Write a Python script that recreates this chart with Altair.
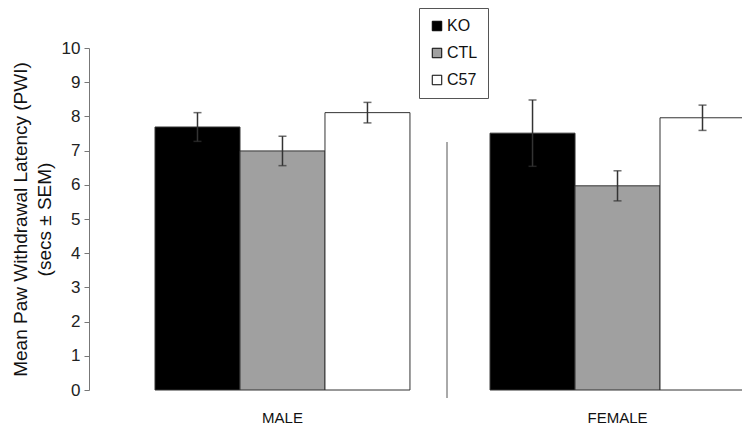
import altair as alt
import pandas as pd

sexes = ["MALE", "MALE", "MALE", "FEMALE", "FEMALE", "FEMALE"]
groups = ["KO", "CTL", "C57", "KO", "CTL", "C57"]
means = [7.69, 6.99, 8.11, 7.51, 5.97, 7.96]
sem = [0.42, 0.43, 0.30, 0.97, 0.44, 0.37]

group_order = ["KO", "CTL", "C57"]
group_colors = ["#000000", "#a0a0a0", "#ffffff"]
sex_order = ["MALE", "FEMALE"]

df = pd.DataFrame({
    "sex": sexes,
    "group": groups,
    "mean": means,
    "lo": [m - s for m, s in zip(means, sem)],
    "hi": [m + s for m, s in zip(means, sem)],
})

FONT = "Liberation Sans"

xscale = alt.Scale(range=[66, 656], paddingInner=0.239, paddingOuter=0)
xaxis = alt.Axis(title=None, domain=False, ticks=False, labelAngle=0, grid=False,
                 labelFontSize=15, labelPadding=20, labelColor="#111", labelFont=FONT)
xoff = alt.XOffset("group:N", sort=group_order,
                   scale=alt.Scale(domain=group_order, paddingInner=0, paddingOuter=0))
xenc = alt.X("sex:N", sort=sex_order, scale=xscale, axis=xaxis)

yscale = alt.Scale(domain=[0, 10])
yaxis = alt.Axis(
    title=["Mean Paw Withdrawal Latency (PWI)", "(secs ± SEM)"],
    values=list(range(0, 11)), tickSize=5, domainColor="#777", tickColor="#777",
    labelFontSize=17, labelColor="#222", labelPadding=4, labelFont=FONT,
    labelOverlap=False,
    titleFontSize=19, titleFontWeight="normal", titleColor="#111", titleFont=FONT,
    titleLineHeight=24, titlePadding=7, grid=False,
)

base = alt.Chart(df)

bars = base.mark_bar(stroke="#333", strokeWidth=1).encode(
    x=xenc,
    xOffset=xoff,
    y=alt.Y("mean:Q", scale=yscale, axis=yaxis),
    color=alt.Color(
        "group:N", sort=group_order,
        scale=alt.Scale(domain=group_order, range=group_colors),
        legend=alt.Legend(
            title=None, orient="none", legendX=330, legendY=-40,
            symbolType="square", symbolSize=90, symbolStrokeColor="#000",
            symbolStrokeWidth=1, labelFontSize=16, labelFont=FONT, labelColor="#111",
            rowPadding=11, padding=10, strokeColor="#555", fillColor="white",
            labelOffset=2,
        ),
    ),
)

err = base.mark_rule(color="#333", strokeWidth=1.5).encode(
    x=xenc, xOffset=xoff, y=alt.Y("lo:Q", scale=yscale, axis=yaxis), y2="hi:Q",
)
cap_hi = base.mark_tick(color="#333", thickness=1.5, size=8).encode(
    x=xenc, xOffset=xoff, y=alt.Y("hi:Q", scale=yscale, axis=yaxis),
)
cap_lo = base.mark_tick(color="#333", thickness=1.5, size=8).encode(
    x=xenc, xOffset=xoff, y=alt.Y("lo:Q", scale=yscale, axis=yaxis),
)

sep = alt.Chart(pd.DataFrame({"k": [0]})).mark_rule(color="#555", strokeWidth=1).encode(
    x=alt.value(358), y=alt.value(94), y2=alt.value(350),
)

chart = alt.layer(bars, err, cap_hi, cap_lo, sep).properties(
    width=653, height=342,
    autosize=alt.AutoSizeParams(type="none"),
    padding={"left": 81, "top": 40, "right": 0, "bottom": 38},
    background="white",
).configure_view(stroke=None).configure_axis(grid=False).configure_axisY(
    labelFontSize=17, labelFont=FONT, titleFontSize=19, titleFont=FONT
).configure_axisX(labelFontSize=15, labelFont=FONT)

chart.save("out.html", embed_options={"renderer": "svg", "actions": False})
